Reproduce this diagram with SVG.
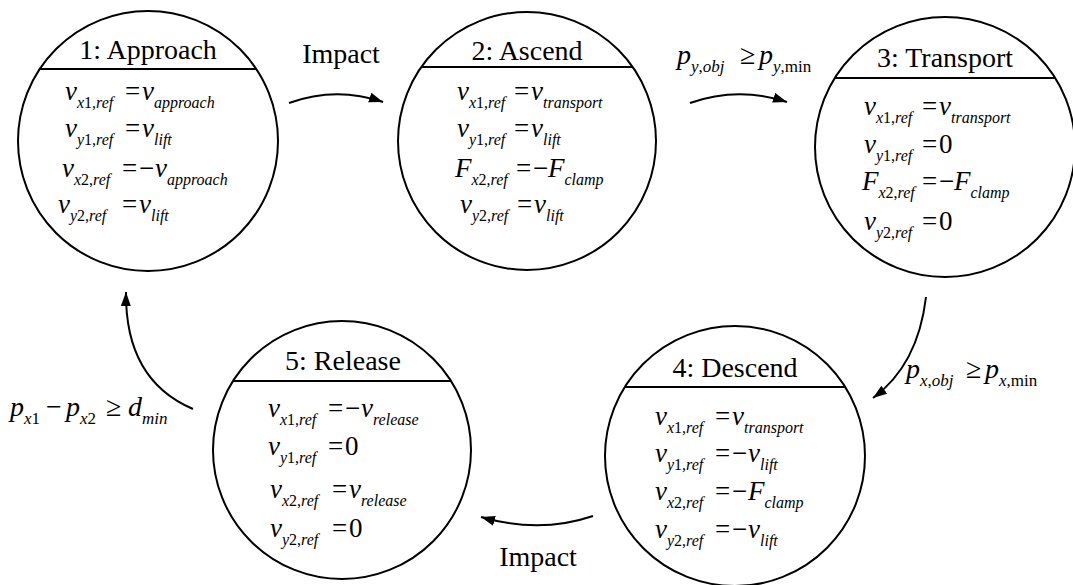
<svg xmlns="http://www.w3.org/2000/svg" width="1073" height="585" viewBox="0 0 1073 585">
<style>
.c{fill:#fff;stroke:#000;stroke-width:2}
.d{stroke:#000;stroke-width:2}
.t{font-family:'Liberation Serif','Times New Roman','DejaVu Serif',serif;font-size:28px;text-anchor:middle;fill:#000}
.m{font-family:'Liberation Serif','Times New Roman','DejaVu Serif',serif;font-size:27px;font-style:italic;fill:#000}
.l{font-size:28px}
.s{font-size:16px}
.s2{font-size:17px}
.u{font-style:normal}
.a{fill:none;stroke:#000;stroke-width:2;marker-end:url(#ah)}
</style>
<defs>
<marker id="ah" markerUnits="userSpaceOnUse" markerWidth="16" markerHeight="12" refX="14" refY="5" orient="auto"><path d="M0,0 L14,5 L0,10 z" fill="#000"/></marker>
</defs>
<g id="connectors">
<path class="a" d="M289,103 Q336,86 383,102"/>
<path class="a" d="M690,103 Q738,86 787,102"/>
<path class="a" d="M926,297 Q918,365 873,398"/>
<path class="a" d="M593,516 Q540,534 481,517"/>
<path class="a" d="M193,409 Q125,380 126,292"/>
<text class="t" x="341" y="63">Impact</text>
<text class="t" x="538" y="566">Impact</text>
<text class="m l" x="677" y="64">p<tspan class="s2" dy="8">y<tspan class="u">,</tspan>obj</tspan><tspan class="u" x="740" dy="-8">≥</tspan><tspan x="759">p</tspan><tspan class="s2" dy="8">y<tspan class="u">,min</tspan></tspan></text>
<text class="m l" x="906" y="378">p<tspan class="s2" dy="8">x<tspan class="u">,</tspan>obj</tspan><tspan class="u" x="966" dy="-8">≥</tspan><tspan x="985">p</tspan><tspan class="s2" dy="8">x<tspan class="u">,min</tspan></tspan></text>
<text class="m l" x="10" y="416">p<tspan class="s2" dy="8">x<tspan class="u">1</tspan></tspan><tspan class="u" x="46" dy="-8">−</tspan><tspan x="66">p</tspan><tspan class="s2" dy="8">x<tspan class="u">2</tspan></tspan><tspan class="u" x="106" dy="-8">≥</tspan><tspan x="128">d</tspan><tspan class="s2" dy="8">min</tspan></text>
</g>
<g id="n1">
<circle class="c" cx="148" cy="141" r="130"/>
<line class="d" x1="40" y1="69" x2="256" y2="69"/>
<text class="t" x="148" y="59">1: Approach</text>
<text class="m" x="65" y="100">v<tspan class="s" dy="8">x<tspan class="u">1,</tspan>ref</tspan><tspan class="u" x="125" dy="-8">=</tspan><tspan x="142">v</tspan><tspan class="s" dy="8">approach</tspan></text>
<text class="m" x="65" y="137">v<tspan class="s" dy="8">y<tspan class="u">1,</tspan>ref</tspan><tspan class="u" x="125" dy="-8">=</tspan><tspan x="142">v</tspan><tspan class="s" dy="8">lift</tspan></text>
<text class="m" x="62" y="177">v<tspan class="s" dy="8">x<tspan class="u">2,</tspan>ref</tspan><tspan class="u" x="122" dy="-8">=</tspan><tspan class="u" x="139">−</tspan><tspan x="155">v</tspan><tspan class="s" dy="8">approach</tspan></text>
<text class="m" x="58" y="213">v<tspan class="s" dy="8">y<tspan class="u">2,</tspan>ref</tspan><tspan class="u" x="122" dy="-8">=</tspan><tspan x="139">v</tspan><tspan class="s" dy="8">lift</tspan></text>
</g>
<g id="n2">
<circle class="c" cx="527" cy="141" r="129"/>
<line class="d" x1="421" y1="67" x2="633" y2="67"/>
<text class="t" x="527" y="60">2: Ascend</text>
<text class="m" x="457" y="100">v<tspan class="s" dy="8">x<tspan class="u">1,</tspan>ref</tspan><tspan class="u" x="514" dy="-8">=</tspan><tspan x="531">v</tspan><tspan class="s" dy="8">transport</tspan></text>
<text class="m" x="457" y="137">v<tspan class="s" dy="8">y<tspan class="u">1,</tspan>ref</tspan><tspan class="u" x="514" dy="-8">=</tspan><tspan x="531">v</tspan><tspan class="s" dy="8">lift</tspan></text>
<text class="m" x="455" y="177">F<tspan class="s" dy="8">x<tspan class="u">2,</tspan>ref</tspan><tspan class="u" x="516" dy="-8">=</tspan><tspan class="u" x="533">−</tspan><tspan x="548">F</tspan><tspan class="s" dy="8">clamp</tspan></text>
<text class="m" x="460" y="213">v<tspan class="s" dy="8">y<tspan class="u">2,</tspan>ref</tspan><tspan class="u" x="517" dy="-8">=</tspan><tspan x="534">v</tspan><tspan class="s" dy="8">lift</tspan></text>
</g>
<g id="n3">
<circle class="c" cx="945" cy="147" r="130"/>
<line class="d" x1="835" y1="78" x2="1055" y2="78"/>
<text class="t" x="945" y="67">3: Transport</text>
<text class="m" x="864" y="115">v<tspan class="s" dy="8">x<tspan class="u">1,</tspan>ref</tspan><tspan class="u" x="922" dy="-8">=</tspan><tspan x="939">v</tspan><tspan class="s" dy="8">transport</tspan></text>
<text class="m" x="864" y="153">v<tspan class="s" dy="8">y<tspan class="u">1,</tspan>ref</tspan><tspan class="u" x="922" dy="-8">=</tspan><tspan class="u" x="939">0</tspan></text>
<text class="m" x="862" y="190">F<tspan class="s" dy="8">x<tspan class="u">2,</tspan>ref</tspan><tspan class="u" x="922" dy="-8">=</tspan><tspan class="u" x="939">−</tspan><tspan x="954">F</tspan><tspan class="s" dy="8">clamp</tspan></text>
<text class="m" x="864" y="230">v<tspan class="s" dy="8">y<tspan class="u">2,</tspan>ref</tspan><tspan class="u" x="922" dy="-8">=</tspan><tspan class="u" x="939">0</tspan></text>
</g>
<g id="n4">
<circle class="c" cx="735" cy="456" r="130"/>
<line class="d" x1="625" y1="387" x2="845" y2="387"/>
<text class="t" x="735" y="377">4: Descend</text>
<text class="m" x="655" y="425">v<tspan class="s" dy="8">x<tspan class="u">1,</tspan>ref</tspan><tspan class="u" x="715" dy="-8">=</tspan><tspan x="732">v</tspan><tspan class="s" dy="8">transport</tspan></text>
<text class="m" x="655" y="462">v<tspan class="s" dy="8">y<tspan class="u">1,</tspan>ref</tspan><tspan class="u" x="715" dy="-8">=</tspan><tspan class="u" x="732">−</tspan><tspan x="748">v</tspan><tspan class="s" dy="8">lift</tspan></text>
<text class="m" x="655" y="500">v<tspan class="s" dy="8">x<tspan class="u">2,</tspan>ref</tspan><tspan class="u" x="715" dy="-8">=</tspan><tspan class="u" x="732">−</tspan><tspan x="748">F</tspan><tspan class="s" dy="8">clamp</tspan></text>
<text class="m" x="655" y="538">v<tspan class="s" dy="8">y<tspan class="u">2,</tspan>ref</tspan><tspan class="u" x="715" dy="-8">=</tspan><tspan class="u" x="732">−</tspan><tspan x="748">v</tspan><tspan class="s" dy="8">lift</tspan></text>
</g>
<g id="n5">
<circle class="c" cx="342" cy="450" r="129"/>
<line class="d" x1="233" y1="381" x2="451" y2="381"/>
<text class="t" x="343" y="370">5: Release</text>
<text class="m" x="268" y="417">v<tspan class="s" dy="8">x<tspan class="u">1,</tspan>ref</tspan><tspan class="u" x="328" dy="-8">=</tspan><tspan class="u" x="345">−</tspan><tspan x="361">v</tspan><tspan class="s" dy="8">release</tspan></text>
<text class="m" x="268" y="455">v<tspan class="s" dy="8">y<tspan class="u">1,</tspan>ref</tspan><tspan class="u" x="328" dy="-8">=</tspan><tspan class="u" x="345">0</tspan></text>
<text class="m" x="270" y="498">v<tspan class="s" dy="8">x<tspan class="u">2,</tspan>ref</tspan><tspan class="u" x="332" dy="-8">=</tspan><tspan x="349">v</tspan><tspan class="s" dy="8">release</tspan></text>
<text class="m" x="270" y="537">v<tspan class="s" dy="8">y<tspan class="u">2,</tspan>ref</tspan><tspan class="u" x="332" dy="-8">=</tspan><tspan class="u" x="349">0</tspan></text>
</g>
</svg>
